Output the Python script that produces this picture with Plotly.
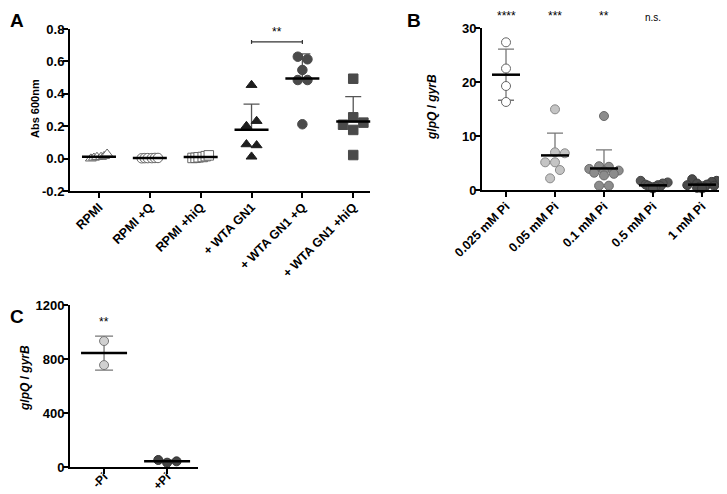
import numpy as np
import plotly.graph_objects as go

# ---------------- DATA ----------------
# Panel A
a_categories = ["RPMI", "RPMI +Q", "RPMI +hiQ", "+ WTA GN1", "+ WTA GN1 +Q", "+ WTA GN1 +hiQ"]
a_rpmi = [0.0, 0.005, 0.01, 0.01, 0.015, 0.03]
a_rpmi_q = [0.002, 0.003, 0.003, 0.003, 0.004, 0.004]
a_rpmi_hiq = [0.004, 0.005, 0.008, 0.01, 0.015, 0.02]
a_wta = [0.454, 0.232, 0.201, 0.088, 0.082, 0.012]
a_wta_q = [0.629, 0.613, 0.547, 0.485, 0.485, 0.212]
a_wta_hiq = [0.493, 0.255, 0.209, 0.222, 0.177, 0.022]
a_yticks = [-0.2, 0.0, 0.2, 0.4, 0.6, 0.8]
a_ytitle = "Abs 600nm"
a_sig_label = "**"
a_sig_level = 0.72

# Panel B
b_categories = ["0.025 mM Pi", "0.05 mM Pi", "0.1 mM Pi", "0.5 mM Pi", "1 mM Pi"]
b_0025 = [27.35, 22.5, 19.26, 16.3]
b_005 = [14.94, 6.98, 6.8, 5.13, 5.13, 3.7, 2.16]
b_01 = [13.7, 4.4, 4.3, 3.9, 3.6, 3.5, 3.2, 3.0, 2.7, 0.8, 0.8]
b_05 = [1.7, 1.4, 1.2, 1.0, 0.9, 0.8, 0.7, 0.6, 0.5, 0.4, 0.3]
b_1 = [2.0, 1.7, 1.5, 1.2, 1.0, 0.9, 0.8, 0.6, 0.5, 0.4, 0.3]
b_yticks = [0, 10, 20, 30]
b_ytitle = "<i>glpQ</i> / <i>gyrB</i>"
b_sig_labels = ["****", "***", "**", "n.s."]

# Panel C
c_categories = ["-Pi", "+Pi"]
c_minus = [933, 755]
c_plus = [52, 32, 42]
c_yticks = [0, 400, 800, 1200]
c_ytitle = "<i>glpQ</i> / <i>gyrB</i>"
c_sig_labels = ["**"]
c_sig_level = 1074

# ---------------- STYLE ----------------
FONT = "Liberation Sans, Arial, sans-serif"
a_jitter = [
    [-0.16, -0.1, -0.04, 0.04, 0.1, 0.16],
    [-0.16, -0.1, -0.04, 0.04, 0.1, 0.16],
    [-0.16, -0.1, -0.04, 0.04, 0.1, 0.16],
    [0, 0.1, -0.1, -0.1, 0.1, 0],
    [-0.09, 0.1, 0, -0.09, 0.1, 0],
    [0, 0, -0.2, 0.2, 0, 0],
]
a_style = [
    dict(symbol="triangle-up", color="white", line="#666"),
    dict(symbol="circle", color="white", line="#666"),
    dict(symbol="square", color="white", line="#666"),
    dict(symbol="triangle-up", color="#1e1e1e", line="#1e1e1e"),
    dict(symbol="circle", color="#4a4a4a", line="#4a4a4a"),
    dict(symbol="square", color="#4a4a4a", line="#4a4a4a"),
]
a_upper_only = [True] * 6

b_jitter = [
    [0, 0, 0, 0],
    [0, 0, 0.2, -0.2, 0, 0.1, -0.1],
    [0, -0.1, 0.1, -0.3, 0.3, 0, -0.2, 0.2, 0, -0.1, 0.1],
    [-0.25, 0.3, 0.2, -0.15, 0.1, -0.1, 0.15, 0.05, -0.05, 0.0, 0.0],
    [-0.2, 0.3, 0.2, -0.1, 0.1, -0.3, 0.25, -0.05, 0.05, -0.1, 0.0],
]
b_colors = [("white", "#666"), ("#c4c4c4", "#8a8a8a"), ("#8c8c8c", "#6a6a6a"),
            ("#555555", "#444"), ("#4a4a4a", "#3a3a3a")]
b_both = [True, False, False, False, False]

c_jitter = [[0, 0], [-0.14, 0, 0.15]]
c_colors = [("#d0d0d0", "#777"), ("#444444", "#333")]
c_both = [True, False]

LINE_EW = 1.4  # plotly's line-ew symbol is 1.4 x marker size wide

fig = go.Figure()


def add_group(xa, ya, idx, vals, offs, symbol, fill, edge, size, mean_w, cap, both, err_color, err_w):
    vals = np.array(vals, dtype=float)
    m = vals.mean()
    sd = vals.std(ddof=1)
    fig.add_trace(go.Scatter(
        x=[idx], y=[m], xaxis=xa, yaxis=ya, mode="markers",
        marker=dict(size=1, color="rgba(0,0,0,0)"),
        error_y=dict(type="data", array=[sd], arrayminus=[sd if both else 0],
                     symmetric=False, color=err_color, thickness=err_w, width=cap),
        showlegend=False, hoverinfo="skip", cliponaxis=False))
    fig.add_trace(go.Scatter(
        x=[idx + o for o in offs], y=vals, xaxis=xa, yaxis=ya, mode="markers",
        marker=dict(symbol=symbol, size=size, color=fill, line=dict(color=edge, width=1)),
        showlegend=False, cliponaxis=False))
    fig.add_trace(go.Scatter(
        x=[idx], y=[m], xaxis=xa, yaxis=ya, mode="markers",
        marker=dict(symbol="line-ew", size=mean_w / LINE_EW, line=dict(color="black", width=2.5)),
        showlegend=False, hoverinfo="skip", cliponaxis=False))


a_data = [a_rpmi, a_rpmi_q, a_rpmi_hiq, a_wta, a_wta_q, a_wta_hiq]
for i, (vals, offs, st) in enumerate(zip(a_data, a_jitter, a_style)):
    add_group("x", "y", i, vals, offs, st["symbol"], st["color"], st["line"], 9.5, 34, 8,
              not a_upper_only[i], "#555", 1.3)

b_data = [b_0025, b_005, b_01, b_05, b_1]
for i, (vals, offs, col) in enumerate(zip(b_data, b_jitter, b_colors)):
    add_group("x2", "y2", i, vals, offs, "circle", col[0], col[1], 9, 28, 8, b_both[i], "#777", 1.3)

c_data = [c_minus, c_plus]
for i, (vals, offs, col) in enumerate(zip(c_data, c_jitter, c_colors)):
    add_group("x3", "y3", i, vals, offs, "circle", col[0], col[1], 9, 46, 9, c_both[i], "#777", 1.3)

# page is 727x494; the HTML body has an 8px default margin, so the figure is offset
PAGE_W, PAGE_H = 727, 494
OFF = 8
W, H = PAGE_W - OFF, PAGE_H - OFF


def px_x(p):
    return (p - OFF) / W


def px_y(p):
    return 1 - (p - OFF) / H


def xd(p0, p1):
    return [px_x(p0), min(px_x(p1), 1.0)]


def yd(p_top, p_bot):
    return [px_y(p_bot), px_y(p_top)]


tickfont = dict(family=FONT, size=13, color="black", weight="bold")
axis_common = dict(showline=True, linecolor="black", linewidth=2, ticks="outside",
                   ticklen=5, tickwidth=2, tickcolor="black", showgrid=False, zeroline=False,
                   automargin=False)
yaxis_extra = dict(tickfont=tickfont, ticklabelstandoff=-4)


def xtick(size):
    return dict(family=FONT, size=size, color="black", weight="bold")


fig.update_layout(
    template="none",
    width=W, height=H, margin=dict(l=0, r=0, t=0, b=0),
    paper_bgcolor="white", plot_bgcolor="white",
    font=dict(family=FONT, color="black"),
    xaxis=dict(domain=xd(70, 370), anchor="y", range=[-0.57, 5.33],
               tickvals=list(range(len(a_categories))), ticktext=a_categories,
               tickangle=-45, tickfont=xtick(12.5), ticklabelstandoff=-3, **axis_common),
    yaxis=dict(domain=yd(29, 191), anchor="x", range=[a_yticks[0], a_yticks[-1]],
               tickvals=a_yticks, ticktext=[f"{v:.1f}" for v in a_yticks],
               **yaxis_extra, **axis_common),
    xaxis2=dict(domain=xd(482, 725), anchor="y2", range=[-0.49, 4.47],
                tickvals=list(range(len(b_categories))), ticktext=b_categories,
                tickangle=-45, tickfont=xtick(12.5), ticklabelstandoff=-3, **axis_common),
    yaxis2=dict(domain=yd(28, 190), anchor="x2", range=[b_yticks[0], b_yticks[-1]],
                tickvals=b_yticks, **yaxis_extra, **axis_common),
    xaxis3=dict(domain=xd(70, 198), anchor="y3", range=[-0.54, 1.49],
                tickvals=list(range(len(c_categories))), ticktext=c_categories,
                tickangle=-45, tickfont=xtick(12), ticklabelstandoff=-9, **axis_common),
    yaxis3=dict(domain=yd(305, 467), anchor="x3", range=[c_yticks[0], c_yticks[-1]],
                tickvals=c_yticks, **yaxis_extra, **axis_common),
)

# y axis titles (page pixel centres)
for text, cx, cy, size in [(a_ytitle, 35, 109, 11), (b_ytitle, 432, 107, 12), (c_ytitle, 25, 378, 12)]:
    fig.add_annotation(x=px_x(cx), y=px_y(cy), xref="paper", yref="paper", text=text,
                       textangle=-90, showarrow=False, xanchor="center", yanchor="middle",
                       font=dict(family=FONT, size=size, color="black", weight="bold"))

# significance bracket panel A
sig_pair = (3, 4)
fig.add_shape(type="line", xref="x", yref="y", x0=sig_pair[0], x1=sig_pair[1],
              y0=a_sig_level, y1=a_sig_level, line=dict(color="#333", width=1.2))
for xx in sig_pair:
    fig.add_shape(type="line", xref="x", yref="y", x0=xx, x1=xx,
                  y0=a_sig_level - 0.012, y1=a_sig_level + 0.012, line=dict(color="#333", width=1.2))
fig.add_annotation(x=sum(sig_pair) / 2, y=a_sig_level, xref="x", yref="y", text=a_sig_label,
                   showarrow=False, yanchor="bottom", yshift=1, font=dict(family=FONT, size=12, color="black"))

# panel B stars
for i, lab in enumerate(b_sig_labels):
    fig.add_annotation(x=i, y=1.0, xref="x2", yref="y2 domain", text=lab, showarrow=False,
                       yanchor="bottom", yshift=3,
                       font=dict(family=FONT, size=12 if lab != "n.s." else 10, color="black"))
# panel C stars
for i, lab in enumerate(c_sig_labels):
    fig.add_annotation(x=i, y=c_sig_level, xref="x3", yref="y3", text=lab, showarrow=False,
                       font=dict(family=FONT, size=12, color="black"))

# panel letters (page coords -> figure coords)
for lab, px, py in [("A", 8, 8), ("B", 405, 8), ("C", 8, 304)]:
    fig.add_annotation(x=max(px_x(px), 0), y=min(px_y(py), 1), xref="paper", yref="paper",
                       text=lab, showarrow=False, xanchor="left", yanchor="top",
                       font=dict(family=FONT, size=19, color="black", weight="bold"))

fig.write_html("out.html")
